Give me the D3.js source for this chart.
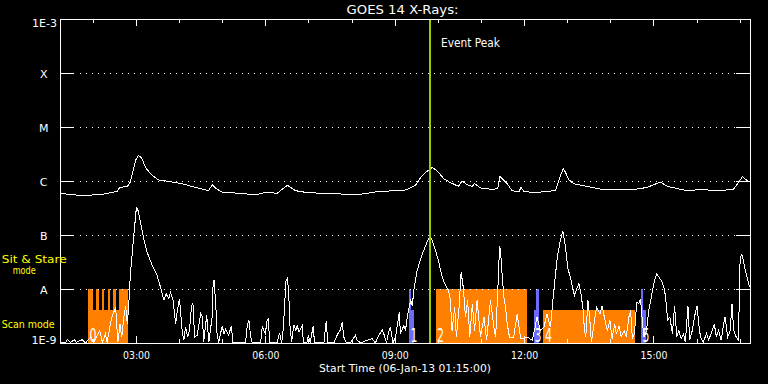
<!DOCTYPE html>
<html><head><meta charset="utf-8">
<script src="https://cdn.jsdelivr.net/npm/d3@7"></script>
<style>
html,body{margin:0;padding:0;background:#000;}
svg{display:block;}
text{font-family:"DejaVu Sans",sans-serif;}
</style></head><body>
<svg id="c" width="768" height="384"></svg>
<script>
// ---------------- data ----------------
const chartTitle = "GOES 14 X-Rays:";
const xAxisTitle = "Start Time (06-Jan-13 01:15:00)";
const timeDomain = [1.25, 17.25];            // hours of 06-Jan-13 (UT)
const levelNames = ["1E-9", "A", "B", "C", "M", "X", "1E-3"];
const levelFlux  = [1e-9, 1e-8, 1e-7, 1e-6, 1e-5, 1e-4, 1e-3];
const eventPeakTime = 9.83;
const eventLabel = "Event Peak";
const modeLabels = ["Sit & Stare", "mode", "Scan mode"];

// long channel (1-8 A): [hour, log10 flux]
const longSeries = [[1.25,-6.22],[1.60,-6.25],[1.99,-6.25],[2.29,-6.23],[2.57,-6.18],[2.62,-6.11],[2.80,-6.09],[2.87,-6.01],[2.99,-5.61],[3.05,-5.52],[3.13,-5.56],[3.22,-5.74],[3.34,-5.86],[3.52,-5.97],[3.84,-6.01],[4.07,-6.04],[4.38,-6.11],[4.68,-6.17],[4.77,-6.06],[4.84,-6.12],[5.00,-6.20],[5.46,-6.22],[5.77,-6.25],[5.96,-6.21],[6.07,-6.20],[6.27,-6.22],[6.51,-6.07],[6.70,-6.17],[7.00,-6.21],[7.55,-6.22],[8.09,-6.25],[8.67,-6.18],[9.17,-6.17],[9.29,-6.15],[9.48,-6.07],[9.60,-5.93],[9.75,-5.81],[9.87,-5.74],[9.98,-5.80],[10.14,-5.95],[10.29,-6.02],[10.48,-6.09],[10.56,-5.99],[10.68,-6.06],[10.80,-6.09],[10.85,-6.04],[10.99,-6.12],[11.30,-6.15],[11.39,-6.12],[11.44,-5.91],[11.61,-6.04],[11.72,-6.17],[11.88,-6.19],[11.93,-6.11],[11.99,-6.18],[12.23,-6.21],[12.54,-6.18],[12.73,-6.17],[12.83,-5.92],[12.91,-5.76],[12.96,-5.83],[13.04,-5.97],[13.15,-6.04],[13.46,-6.09],[13.77,-6.14],[14.08,-6.15],[14.54,-6.15],[14.85,-6.11],[15.16,-6.01],[15.32,-6.09],[15.78,-6.17],[16.09,-6.15],[16.55,-6.17],[16.86,-6.14],[16.98,-6.01],[17.06,-5.91],[17.17,-5.98],[17.25,-6.01]];

// short channel (0.5-4 A): [hour, log10 flux]
const shortSeries = [[1.26,-8.98],[1.37,-8.98],[1.41,-8.93],[1.48,-8.98],[1.57,-8.93],[1.62,-8.98],[1.75,-8.93],[1.83,-8.99],[1.95,-8.88],[2.02,-8.98],[2.16,-8.76],[2.22,-8.98],[2.29,-8.82],[2.33,-8.98],[2.43,-8.54],[2.47,-8.45],[2.53,-8.33],[2.58,-8.98],[2.63,-8.64],[2.67,-8.88],[2.72,-8.51],[2.76,-8.30],[2.80,-8.64],[2.83,-8.33],[2.87,-7.71],[2.94,-7.09],[3.01,-6.48],[3.04,-6.51],[3.11,-6.78],[3.18,-7.06],[3.26,-7.31],[3.38,-7.56],[3.49,-7.74],[3.57,-7.96],[3.65,-8.20],[3.70,-8.08],[3.76,-8.17],[3.80,-8.05],[3.86,-8.20],[3.92,-8.64],[3.96,-8.39],[4.01,-8.17],[4.07,-8.76],
[4.11,-8.94],[4.15,-8.70],[4.20,-8.88],[4.24,-8.76],[4.29,-8.30],[4.32,-8.25],[4.36,-8.88],[4.42,-8.85],[4.50,-8.45],[4.54,-8.51],[4.57,-8.98],[4.64,-8.48],[4.69,-8.98],[4.77,-8.48],[4.79,-7.85],[4.81,-7.83],[4.85,-8.26],[4.88,-8.82],[4.92,-8.98],[5.00,-8.67],[5.04,-8.82],[5.08,-8.73],[5.15,-8.85],[5.21,-8.67],[5.25,-8.99],[5.54,-8.99],[5.58,-8.67],[5.62,-8.57],[5.66,-8.88],[5.70,-8.99],[5.89,-8.99],[5.93,-8.67],[5.96,-8.76],[6.00,-8.82],[6.04,-8.57],[6.07,-8.54],[6.10,-8.99],[6.16,-8.98],[6.27,-8.99],[6.33,-8.81],[6.38,-8.99],[6.42,-8.70],[6.44,-8.39],[6.48,-7.83],[6.51,-7.79],[6.54,-8.02],[6.57,-8.67],[6.61,-8.98],[6.66,-8.65],[6.71,-8.76],[6.74,-8.67],[6.78,-8.79],[6.82,-8.73],[6.86,-8.67],[6.88,-8.99],[6.96,-8.99],[7.00,-8.85],[7.04,-8.99],[7.11,-8.67],[7.14,-8.99],[7.36,-8.98],[7.41,-8.59],[7.45,-8.99],[7.59,-8.99],[7.68,-8.82],[7.74,-8.75],[7.78,-8.61],[7.82,-8.88],[7.88,-8.99],[7.97,-8.99],[8.09,-8.85],[8.13,-8.94],[8.21,-8.99],[8.36,-8.94],[8.48,-8.91],[8.55,-8.99],[8.63,-8.85],[8.71,-8.75],[8.76,-8.85],[8.81,-8.99],[8.86,-8.79],[8.90,-8.69],[8.96,-8.99],[9.02,-8.88],[9.07,-8.61],[9.11,-8.41],
[9.13,-8.82],[9.21,-8.67],[9.25,-8.76],[9.29,-8.51],[9.37,-8.20],[9.41,-8.30],[9.44,-8.02],[9.52,-7.65],[9.60,-7.43],[9.67,-7.28],[9.75,-7.12],[9.81,-7.02],[9.87,-7.09],[9.95,-7.28],[10.02,-7.49],[10.10,-7.77],[10.18,-7.93],[10.25,-8.02],[10.29,-8.20],[10.33,-8.76],[10.39,-8.33],[10.43,-8.88],[10.49,-8.35],[10.54,-7.68],[10.59,-7.96],[10.64,-8.51],[10.69,-8.20],[10.74,-8.88],[10.80,-8.26],[10.85,-8.76],[10.91,-8.20],[10.99,-8.88],[11.07,-8.51],[11.13,-8.94],[11.22,-8.20],[11.30,-8.70],[11.34,-8.88],[11.39,-8.02],[11.43,-7.22],[11.45,-7.25],[11.49,-7.71],[11.53,-8.14],[11.57,-8.33],[11.61,-8.64],[11.66,-8.88],[11.76,-8.88],[11.84,-8.45],[11.92,-8.91],[11.99,-8.91],[12.07,-8.88],[12.19,-8.94],[12.24,-8.76],[12.30,-8.51],[12.38,-8.76],[12.46,-8.70],[12.53,-8.45],[12.61,-8.70],[12.69,-8.02],[12.77,-7.40],[12.84,-7.09],[12.90,-6.92],
[12.96,-7.22],[13.01,-7.59],[13.08,-7.80],[13.14,-8.02],[13.17,-8.11],[13.22,-7.99],[13.27,-7.89],[13.32,-8.08],[13.37,-8.39],[13.40,-8.76],[13.43,-8.88],[13.48,-8.20],[13.52,-8.51],[13.56,-8.98],[13.62,-8.64],[13.68,-8.33],[13.76,-8.45],[13.81,-8.30],[13.86,-8.51],[13.93,-8.76],[13.99,-8.57],[14.04,-8.91],[14.10,-8.64],[14.14,-8.82],[14.20,-8.67],[14.25,-8.88],[14.32,-8.76],[14.37,-8.88],[14.43,-8.51],[14.47,-8.39],[14.51,-8.91],[14.56,-8.82],[14.61,-8.24],[14.66,-8.26],[14.70,-8.17],[14.74,-8.57],[14.78,-8.88],[14.84,-8.76],[14.89,-8.39],[14.95,-8.14],[15.01,-7.89],[15.07,-7.71],[15.10,-7.74],[15.15,-7.80],[15.20,-7.86],[15.26,-8.02],[15.30,-8.30],[15.33,-8.57],[15.38,-8.51],[15.44,-8.82],[15.49,-8.30],[15.54,-8.88],[15.59,-8.76],[15.64,-8.91],[15.70,-8.82],[15.74,-8.98],[15.80,-8.30],[15.84,-8.94],[15.90,-8.76],[15.95,-8.51],[16.01,-8.30],[16.05,-8.64],[16.09,-8.88],[16.15,-8.98],[16.23,-8.82],[16.28,-8.94],[16.36,-8.76],[16.41,-8.64],[16.46,-8.88],[16.51,-8.76],[16.57,-8.94],[16.62,-8.67],[16.66,-8.51],[16.72,-8.88],[16.78,-8.76],[16.82,-8.26],[16.86,-8.76],[16.92,-8.88],[16.97,-8.94],[17.01,-7.40],[17.05,-7.35],[17.09,-7.49],[17.13,-7.65],[17.18,-7.80],[17.23,-7.96]];

// observation segments: start/end hour, mode, instrument group
const barStart = [1.90, 1.90, 2.09, 2.22, 2.36, 2.49, 2.61, 9.34, 9.34, 9.96, 12.24, 12.29, 12.44, 14.72, 14.72];
const barEnd   = [2.83, 2.01, 2.15, 2.28, 2.41, 2.54, 2.83, 9.45, 9.39, 12.07, 12.36, 12.36, 14.58, 14.84, 14.78];
const barMode  = ["scan","sit","sit","sit","sit","sit","sit","scan","sit","sit","scan","sit","scan","scan","sit"];
const barGroup = ["main","main","main","main","main","main","main","aux","aux","main","aux","aux","main","aux","aux"];
const segLabel = ["0", "1", "2", "3", "4", "5"];
const segLabelTime = [1.90, 9.34, 9.96, 12.22, 12.46, 14.72];

// ---------------- drawing ----------------
const svg = d3.select("#c");
svg.append("rect").attr("width", 768).attr("height", 384).attr("fill", "#000");

const toDate = h => new Date(Date.UTC(2013, 0, 6) + h * 3600000);
const x = d3.scaleUtc().domain(timeDomain.map(toDate)).range([60.5, 750.5]);
const y = d3.scaleLog().domain([1e-9, 1e-3]).range([343.5, 19.5]).clamp(true);

const groupColor = {main: "#ff8000", aux: "#6b6bff"};
const modeTop = m => m === "sit" ? y(1e-8) - 0.5 : y(1e-8) + 20.5;

const bars = barStart.map((s, i) => ({s, e: barEnd[i], mode: barMode[i], g: barGroup[i]}));
svg.append("g").attr("shape-rendering", "crispEdges").selectAll("rect").data(bars).join("rect")
  .attr("x", d => x(toDate(d.s)) - 0.5)
  .attr("width", d => x(toDate(d.e)) - x(toDate(d.s)))
  .attr("y", d => modeTop(d.mode))
  .attr("height", d => 343 - modeTop(d.mode))
  .attr("fill", d => groupColor[d.g]);

// dotted grid lines
const inner = levelFlux.slice(1, -1);
svg.append("g").attr("shape-rendering", "crispEdges").selectAll("line").data(inner).join("line")
  .attr("x1", 80).attr("x2", 736).attr("y1", d => y(d)).attr("y2", d => y(d))
  .attr("stroke", "#fff").attr("stroke-width", 1).attr("stroke-dasharray", "1,5");
// level ticks left/right
const lt = svg.append("g").attr("shape-rendering", "crispEdges");
lt.selectAll("line.l").data(inner).join("line").attr("class", "l")
  .attr("x1", 60).attr("x2", 74).attr("y1", d => y(d)).attr("y2", d => y(d)).attr("stroke", "#fff");
lt.selectAll("line.r").data(inner).join("line").attr("class", "r")
  .attr("x1", 736).attr("x2", 751).attr("y1", d => y(d)).attr("y2", d => y(d)).attr("stroke", "#fff");

// time axes (top & bottom) with hour minor ticks, 3-hour major ticks
function styleAxis(g) { g.select(".domain").remove(); g.selectAll("line").attr("stroke", "#fff"); g.attr("shape-rendering", "crispEdges"); }
svg.append("g").attr("transform", "translate(0,19)")
  .call(d3.axisTop(x).ticks(d3.utcHour.every(1)).tickSize(-4).tickFormat("")).call(styleAxis);
svg.append("g").attr("transform", "translate(0,19)")
  .call(d3.axisTop(x).ticks(d3.utcHour.every(3)).tickSize(-7).tickFormat("")).call(styleAxis);
svg.append("g").attr("transform", "translate(0,343)")
  .call(d3.axisBottom(x).ticks(d3.utcHour.every(1)).tickSize(-4).tickFormat("")).call(styleAxis);
const bAx = svg.append("g").attr("transform", "translate(0,343)")
  .call(d3.axisBottom(x).ticks(d3.utcHour.every(3)).tickSize(-7).tickFormat(d3.utcFormat("%H:%M"))).call(styleAxis);
bAx.selectAll("text").attr("y", 16).attr("dy", null).attr("fill", "#fff")
  .attr("font-family", "DejaVu Sans").attr("font-size", 11)
  .attr("textLength", 27).attr("lengthAdjust", "spacingAndGlyphs");

// curves
const line = d3.line().x(d => x(toDate(d[0]))).y(d => y(Math.pow(10, d[1])));
const cg = svg.append("g").attr("shape-rendering", "crispEdges");
cg.append("path").datum(shortSeries).attr("d", line).attr("fill", "none").attr("stroke", "#fff").attr("stroke-width", 1);
cg.append("path").datum(longSeries).attr("d", line).attr("fill", "none").attr("stroke", "#fff").attr("stroke-width", 1);

// segment numbers
svg.append("g").selectAll("text").data(segLabel).join("text")
  .attr("x", (d, i) => x(toDate(segLabelTime[i])) + 1)
  .attr("y", 341.5)
  .attr("fill", "#fff").attr("font-size", 19)
  .attr("textLength", 7).attr("lengthAdjust", "spacingAndGlyphs")
  .text(d => d);

// frame
svg.append("rect").attr("x", 60.5).attr("y", 19.5).attr("width", 690).attr("height", 324)
  .attr("fill", "none").attr("stroke", "#fff").attr("shape-rendering", "crispEdges");

// event peak line
svg.append("line").attr("x1", x(toDate(eventPeakTime)) - 0.5).attr("x2", x(toDate(eventPeakTime)) - 0.5)
  .attr("y1", 20).attr("y2", 343).attr("stroke", "#99cc00").attr("stroke-width", 2).attr("shape-rendering", "crispEdges");
svg.append("text").attr("x", x(toDate(eventPeakTime)) + 10.5).attr("y", 47)
  .attr("fill", "#fff").attr("font-size", 11.5).attr("textLength", 59).attr("lengthAdjust", "spacingAndGlyphs")
  .text(eventLabel);

// y labels
const yl = svg.append("g").attr("fill", "#fff").attr("font-size", 11);
levelNames.forEach((n, i) => {
  const yy = y(levelFlux[i]);
  const t = yl.append("text").text(n);
  if (i === 0) t.attr("x", 56.5).attr("y", 343.5).attr("text-anchor", "end").attr("textLength", 25).attr("lengthAdjust", "spacingAndGlyphs");
  else if (i === levelNames.length - 1) t.attr("x", 57).attr("y", 27.3).attr("text-anchor", "end").attr("textLength", 25).attr("lengthAdjust", "spacingAndGlyphs");
  else t.attr("x", 43.7).attr("y", yy + 4).attr("text-anchor", "middle");
});

// title & x title
svg.append("text").attr("x", 402.5).attr("y", 13.5).attr("text-anchor", "middle")
  .attr("fill", "#fff").attr("font-size", 11.5).attr("textLength", 112).attr("lengthAdjust", "spacingAndGlyphs").text(chartTitle);
svg.append("text").attr("x", 319).attr("y", 371.7)
  .attr("fill", "#fff").attr("font-size", 11).attr("textLength", 172).attr("lengthAdjust", "spacingAndGlyphs").text(xAxisTitle);

// mode labels (yellow)
const ml = svg.append("g").attr("fill", "#ffff00").attr("font-size", 11);
ml.append("text").attr("x", 1.7).attr("y", 262.7).attr("textLength", 65).attr("lengthAdjust", "spacingAndGlyphs").text(modeLabels[0]);
ml.append("text").attr("x", 12.7).attr("y", 274.3).attr("textLength", 23).attr("lengthAdjust", "spacingAndGlyphs").text(modeLabels[1]);
ml.append("text").attr("x", 1.7).attr("y", 327.7).attr("textLength", 53).attr("lengthAdjust", "spacingAndGlyphs").text(modeLabels[2]);
</script>
</body></html>
